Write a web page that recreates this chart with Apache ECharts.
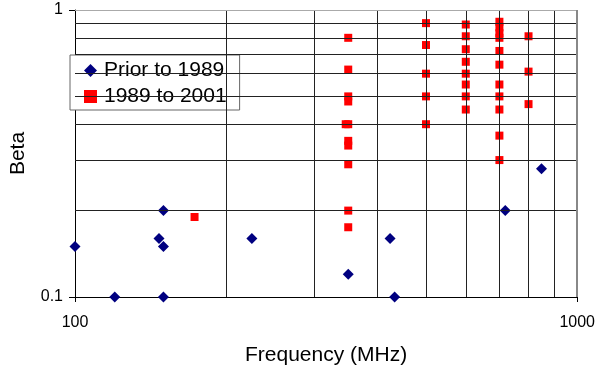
<!DOCTYPE html>
<html>
<head>
<meta charset="utf-8">
<script src="https://cdn.jsdelivr.net/npm/echarts@6/dist/echarts.min.js"></script>
<style>
  html, body { margin: 0; padding: 0; background: #fff; }
  #chart { width: 598px; height: 371px; }
</style>
</head>
<body>
<div id="chart"></div>
<script>
// values
const priorFreq = [100, 120, 147, 150, 150, 150, 225, 350, 424, 433, 719, 849]
const priorBeta = [0.15, 0.10, 0.16, 0.20, 0.15, 0.10, 0.16, 0.12, 0.16, 0.10, 0.20, 0.28]

const recentFreq = [
  173,
  350, 350, 350, 350, 346, 350, 350, 350, 350, 350, 350,
  500, 500, 500, 500, 500,
  600, 600, 600, 600, 600, 600, 600, 600,
  700, 700, 700, 700, 700, 700, 700, 700, 700, 700, 700,
  800, 800, 800,
]
const recentBeta = [
  0.19,
  0.80, 0.62, 0.50, 0.48, 0.40, 0.40, 0.35, 0.337, 0.29, 0.20, 0.175,
  0.90, 0.755, 0.60, 0.50, 0.40,
  0.89, 0.81, 0.73, 0.66, 0.60, 0.55, 0.50, 0.45,
  0.91, 0.87, 0.83, 0.80, 0.72, 0.645, 0.55, 0.50, 0.45, 0.365, 0.30,
  0.81, 0.61, 0.47,
]

const freqGrid = [200, 300, 400, 500, 600, 700, 800, 900]
const betaGrid = [0.2, 0.3, 0.4, 0.5, 0.6, 0.7, 0.8, 0.9]

const font = 'Liberation Sans, Arial, sans-serif'
const chart = echarts.init(document.getElementById('chart'))

const gridLines = [
  ...freqGrid.map(v => ({ xAxis: v })),
  ...betaGrid.map(v => ({ yAxis: v })),
  { yAxis: 1, lineStyle: { color: '#aaa', width: 1 } },
  { xAxis: 1000, lineStyle: { color: '#888', width: 2 } },
]

const labelText = v => String(+Number(v).toPrecision(6))

chart.setOption({
  animation: false,
  textStyle: { fontFamily: font },
  grid: { left: 74, right: 19, top: 10, bottom: 74 },
  legend: {
    orient: 'vertical',
    left: 70,
    top: 55,
    padding: [5, 13, 3, 14],
    itemGap: 5,
    itemWidth: 13,
    itemHeight: 13,
    backgroundColor: '#fff',
    borderColor: '#666',
    borderWidth: 1,
    textStyle: { fontSize: 21, lineHeight: 21, color: '#000', fontFamily: font, padding: [0, 0, 0, 2] },
    data: [
      { name: 'Prior to 1989', icon: 'diamond' },
      { name: '1989 to 2001', icon: 'rect' },
    ],
  },
  xAxis: {
    type: 'log',
    logBase: 10,
    min: 100,
    max: 1000,
    name: 'Frequency (MHz)',
    nameLocation: 'middle',
    nameGap: 48,
    nameTextStyle: { fontSize: 21, color: '#000' },
    axisLine: { lineStyle: { color: '#000', width: 1 } },
    axisTick: { length: 5, lineStyle: { color: '#000' } },
    axisLabel: { fontSize: 16, color: '#000', margin: 18, formatter: labelText },
    splitLine: { show: false },
  },
  yAxis: {
    type: 'log',
    logBase: 10,
    min: 0.1,
    max: 1,
    name: 'Beta',
    nameLocation: 'middle',
    nameRotate: 90,
    nameGap: 46,
    nameTextStyle: { fontSize: 21, color: '#000' },
    axisLine: { lineStyle: { color: '#000', width: 1 } },
    axisTick: { length: 6, lineStyle: { color: '#000' } },
    axisLabel: { fontSize: 16, color: '#000', margin: 12, formatter: labelText },
    splitLine: { show: false },
  },
  series: [
    {
      type: 'scatter',
      name: 'grid',
      data: [],
      silent: true,
      z: 1,
      markLine: {
        silent: true,
        symbol: 'none',
        label: { show: false },
        lineStyle: { color: '#222', width: 1, type: 'solid' },
        data: gridLines,
      },
    },
    {
      type: 'scatter',
      name: 'Prior to 1989',
      symbol: 'diamond',
      symbolSize: 11,
      z: 3,
      itemStyle: { color: '#000080', opacity: 1 },
      data: priorFreq.map((f, i) => [f, priorBeta[i]]),
    },
    {
      type: 'scatter',
      name: '1989 to 2001',
      symbol: 'rect',
      symbolSize: 8,
      z: 3,
      itemStyle: { color: '#ff0000', opacity: 1 },
      data: recentFreq.map((f, i) => [f, recentBeta[i]]),
    },
  ],
})
</script>
</body>
</html>
